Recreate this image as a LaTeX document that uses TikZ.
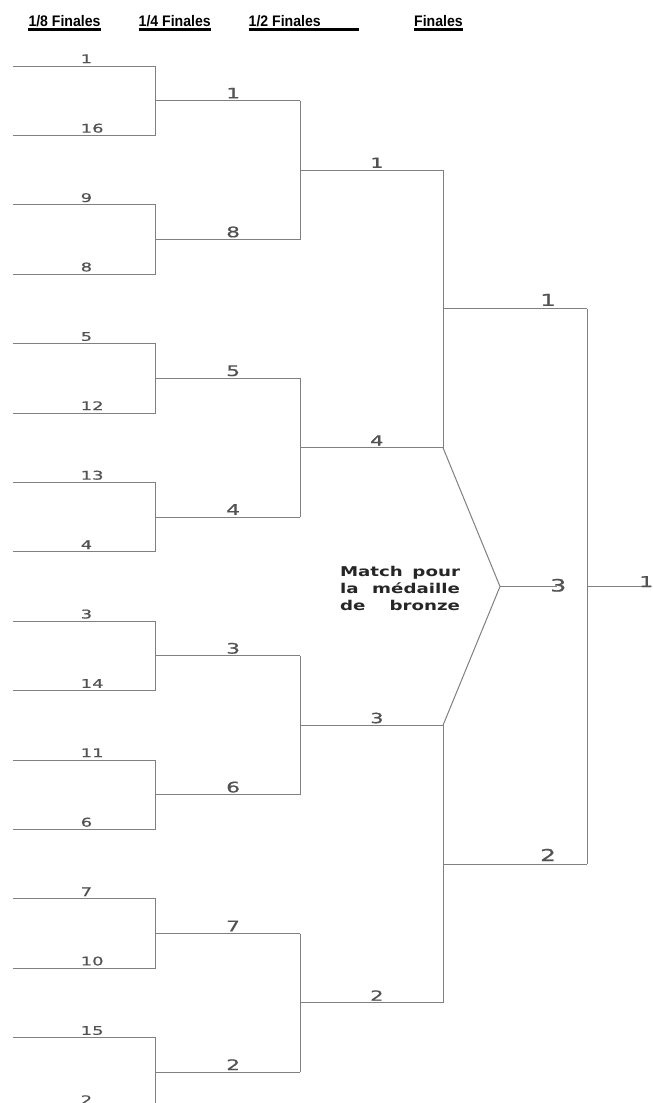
\documentclass[tikz,border=0pt]{standalone}
\usepackage{fontspec}
\setmainfont{Liberation Sans}
\newfontfamily\hdfont[FakeStretch=0.92]{Liberation Sans}
\newfontfamily\numfont[FakeStretch=1.5,FakeBold=0.6]{DejaVu Sans}
\newfontfamily\bronzefont[FakeStretch=1.35]{DejaVu Sans}
\begin{document}
\begin{tikzpicture}[x=1pt,y=-1pt,
  ln/.style={draw=black!50, line width=1pt},
  ul/.style={draw=black, line width=2.3pt},
  hd/.style={font=\hdfont\fontsize{15.3}{17}\selectfont\bfseries, anchor=base west, inner sep=0pt},
  num/.style={text=black!68, anchor=base west, inner sep=0pt},
  r1/.style={num, font=\numfont\fontsize{12}{12}\selectfont},
  r2/.style={num, font=\numfont\fontsize{14.5}{14.5}\selectfont},
  r3/.style={num, font=\numfont\fontsize{14}{14}\selectfont},
  r4/.style={num, font=\numfont\fontsize{16.5}{16.5}\selectfont}]
\clip (0,0) rectangle (653,1103);
\fill[white] (0,0) rectangle (653,1103);
% headers
\node[hd] (h1) at (28.3,26.5) {1/8 Finales};
\node[hd] (h2) at (138.5,26.5) {1/4 Finales};
\node[hd] (h3) at (248.5,26.5) {1/2 Finales};
\node[hd] (h4) at (414,26.5) {Finales};
\coordinate (h3end) at (359,29.5);
\draw[ul] ([yshift=-3pt]h1.base west) -- ([yshift=-3pt]h1.base east);
\draw[ul] ([yshift=-3pt]h2.base west) -- ([yshift=-3pt]h2.base east);
\draw[ul] ([yshift=-3pt]h3.base west) -- (h3end);
\draw[ul] ([yshift=-3pt]h4.base west) -- ([yshift=-3pt]h4.base east);
% round 1
\foreach \s [count=\i from 0] in {1,16,9,8,5,12,13,4,3,14,11,6,7,10,15,2} {
  \pgfmathsetmacro\yy{66+69.4*\i}
  \coordinate (a\i) at (12.7,\yy);
  \coordinate (b\i) at (155.5,\yy);
  \node[r1] (l1n\i) at (80.5,\yy-2.8) {\s};
  \draw[ln] (a\i) -- (b\i);
}
% round 2
\foreach \s [count=\j from 0] in {1,8,5,4,3,6,7,2} {
  \pgfmathsetmacro\yy{100.7+138.8*\j}
  \pgfmathtruncatemacro\ja{2*\j}
  \pgfmathtruncatemacro\jb{2*\j+1}
  \coordinate (c\j) at (155.5,\yy);
  \coordinate (d\j) at (300,\yy);
  \node[r2] (l2n\j) at (226,\yy-2.3) {\s};
  \draw[ln] (b\ja) -- (b\jb);
  \draw[ln] (c\j) -- (d\j);
}
% round 3
\foreach \s [count=\k from 0] in {1,4,3,2} {
  \pgfmathsetmacro\yy{170.1+277.6*\k}
  \pgfmathtruncatemacro\ka{2*\k}
  \pgfmathtruncatemacro\kb{2*\k+1}
  \coordinate (f\k) at (300,\yy);
  \coordinate (e\k) at (443,\yy);
  \node[r3] (l3n\k) at (370,\yy-2.2) {\s};
  \draw[ln] (d\ka) -- (d\kb);
  \draw[ln] (f\k) -- (e\k);
}
% round 4
\foreach \s [count=\m from 0] in {1,2} {
  \pgfmathsetmacro\yy{308.9+555.2*\m}
  \pgfmathtruncatemacro\ma{2*\m}
  \pgfmathtruncatemacro\mb{2*\m+1}
  \coordinate (g\m) at (443,\yy);
  \coordinate (h\m) at (587,\yy);
  \node[r4] (l4n\m) at (540,\yy-3) {\s};
  \draw[ln] (e\ma) -- (e\mb);
  \draw[ln] (g\m) -- (h\m);
}
% final
\draw[ln] (h0) -- (h1);
\coordinate (fin) at (587,586.5);
\coordinate (finend) at (644,586.5);
\draw[ln] (fin) -- (finend);
\node[num, font=\numfont\fontsize{15}{15}\selectfont] (champ) at (639,587) {1};
% bronze
\coordinate (apex) at (500,586.5);
\coordinate (bend) at (557,586.5);
\draw[ln] (e1) -- (apex) -- (e2);
\draw[ln] (apex) -- (bend);
\node[num, font=\numfont\fontsize{17}{17}\selectfont] (bronze3) at (550,591.5) {3};
\node[text width=120pt, align=left, inner sep=0pt, text=black!85,
      font=\bronzefont\bfseries\fontsize{13.5}{16.6}\selectfont] (bronzetxt) at (400,588.5)
  {Match\hfill pour\\la\hfill médaille\\de\hfill bronze};
\end{tikzpicture}
\end{document}
